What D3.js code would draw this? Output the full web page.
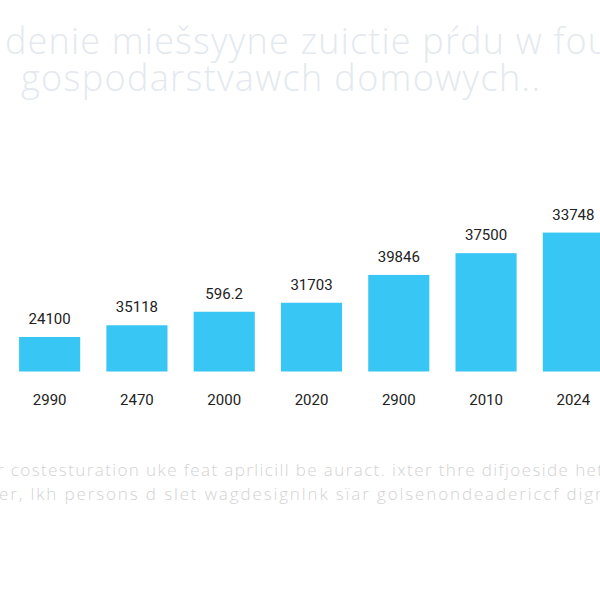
<!DOCTYPE html>
<html>
<head>
<meta charset="utf-8">
<script src="https://cdn.jsdelivr.net/npm/d3@7"></script>
<style>
    body { margin: 0; background: #fff; overflow: hidden; }
    #chart-area svg { display: block; }
    .grid line { stroke: #e9e9e9; stroke-dasharray: 3,2; }
    .grid path { display: none; }
    .x-axis path, .x-axis line { display: none; }
    .x-axis text { font-family: Roboto, sans-serif; font-size: 15px; fill: #222; }
    .bar-label { font-family: Roboto, sans-serif; font-size: 15px; fill: #222; }
    .title { font-family: "Open Sans", sans-serif; font-weight: 300; font-size: 36px; fill: #e4e9ef; }
    .note { font-family: "Open Sans", sans-serif; font-weight: 300; font-size: 17px; fill: #d3d3d3; }
</style>
</head>
<body>
<div id="chart-area"></div>
<script>

// data
var years = ["2990", "2470", "2000", "2020", "2900", "2010", "2024"];
var consumption = [5950, 7970, 10300, 11850, 16650, 20400, 23950];
var valueLabels = ["24100", "35118", "596.2", "31703", "39846", "37500", "33748"];
var gridValues = [0, 5000, 10000, 15000, 20000, 25000, 30000, 37500];
var titleLines = ["denie miešsyyne zuictie pŕdu w fou", "gospodarstvawch domowych.."];
var noteLines = [
    "r costesturation uke feat aprlicill be auract. ixter thre difjoeside het",
    "er, lkh persons d slet wagdesignlnk sïar golsenondeadericcf dign"
];


BarChart = function(_parentElement, _data){
    this.parentElement = _parentElement;
    this.data = _data;
    this.displayData = _data;

    this.initVis();
}


BarChart.prototype.initVis = function(){
    var vis = this;

    vis.margin = { top: 154, right: 0, bottom: 228.5, left: 0 };

    vis.width = 600 - vis.margin.left - vis.margin.right,
        vis.height = 600 - vis.margin.top - vis.margin.bottom;

    vis.root = d3.select("#" + vis.parentElement).append("svg")
        .attr("width", 600)
        .attr("height", 600);

    // faint title above the plot
    vis.root.selectAll("text.title")
        .data(titleLines)
        .enter().append("text")
        .attr("class", "title")
        .attr("x", function(d, i){ return i == 0 ? 5 : 21; })
        .attr("y", function(d, i){ return i == 0 ? 54 : 91; })
        .attr("textLength", function(d, i){ return i == 0 ? 604 : 519; })
        .attr("lengthAdjust", "spacing")
        .text(function(d){ return d; });

    // faint note below the plot
    vis.root.selectAll("text.note")
        .data(noteLines)
        .enter().append("text")
        .attr("class", "note")
        .attr("x", function(d, i){ return i == 0 ? -3 : -1; })
        .attr("y", function(d, i){ return i == 0 ? 476 : 500; })
        .attr("textLength", 606)
        .attr("lengthAdjust", "spacing")
        .text(function(d){ return d; });

    vis.svg = vis.root.append("g")
        .attr("transform", "translate(" + vis.margin.left + "," + vis.margin.top + ")");

    vis.x = d3.scaleBand()
        .range([6, 617])
        .paddingInner(0.3)
        .paddingOuter(0.15);

    vis.y = d3.scaleLinear()
        .domain([0, 37500])
        .range([vis.height, 0]);

    vis.xAxis = d3.axisBottom()
        .scale(vis.x)
        .tickSize(0)
        .tickPadding(23);

    vis.grid = d3.axisLeft()
        .scale(vis.y)
        .tickValues(gridValues)
        .tickSize(-vis.width)
        .tickFormat("");

    vis.svg.append("g")
        .attr("class", "grid");

    vis.svg.append("g")
        .attr("class", "x-axis axis")
        .attr("transform", "translate(0," + vis.height + ")");

    vis.wrangleData();
}


BarChart.prototype.wrangleData = function(){
    var vis = this;

    vis.displayData = vis.data;

    vis.updateVis();
}


BarChart.prototype.updateVis = function(){
    var vis = this;

    vis.x.domain(vis.displayData.map(function(d){ return d.year; }));

    vis.svg.select(".grid").call(vis.grid)
        .attr("transform", "translate(" + vis.width + ",0)");

    // baseline is solid
    vis.svg.select(".grid").selectAll(".tick line")
        .filter(function(d){ return d === 0; })
        .style("stroke", "#d0d0d0")
        .style("stroke-dasharray", "none");

    var bars = vis.svg.selectAll(".bar")
        .data(vis.displayData);

    bars.enter().append("rect")
        .attr("class", "bar")
        .merge(bars)
        .attr("x", function(d){ return vis.x(d.year); })
        .attr("y", function(d){ return vis.y(d.value); })
        .attr("width", vis.x.bandwidth())
        .attr("height", function(d){ return vis.height - vis.y(d.value); })
        .attr("fill", "#38c6f4");

    bars.exit().remove();

    var labels = vis.svg.selectAll(".bar-label")
        .data(vis.displayData);

    labels.enter().append("text")
        .attr("class", "bar-label")
        .merge(labels)
        .attr("x", function(d){ return vis.x(d.year) + vis.x.bandwidth() / 2; })
        .attr("y", function(d){ return vis.y(d.value) - 13; })
        .attr("text-anchor", "middle")
        .text(function(d){ return d.label; });

    labels.exit().remove();

    vis.svg.select(".x-axis").call(vis.xAxis);
}


var chartData = years.map(function(y, i){
    return { year: y, value: consumption[i], label: valueLabels[i] };
});

var barChart = new BarChart("chart-area", chartData);

</script>
</body>
</html>
